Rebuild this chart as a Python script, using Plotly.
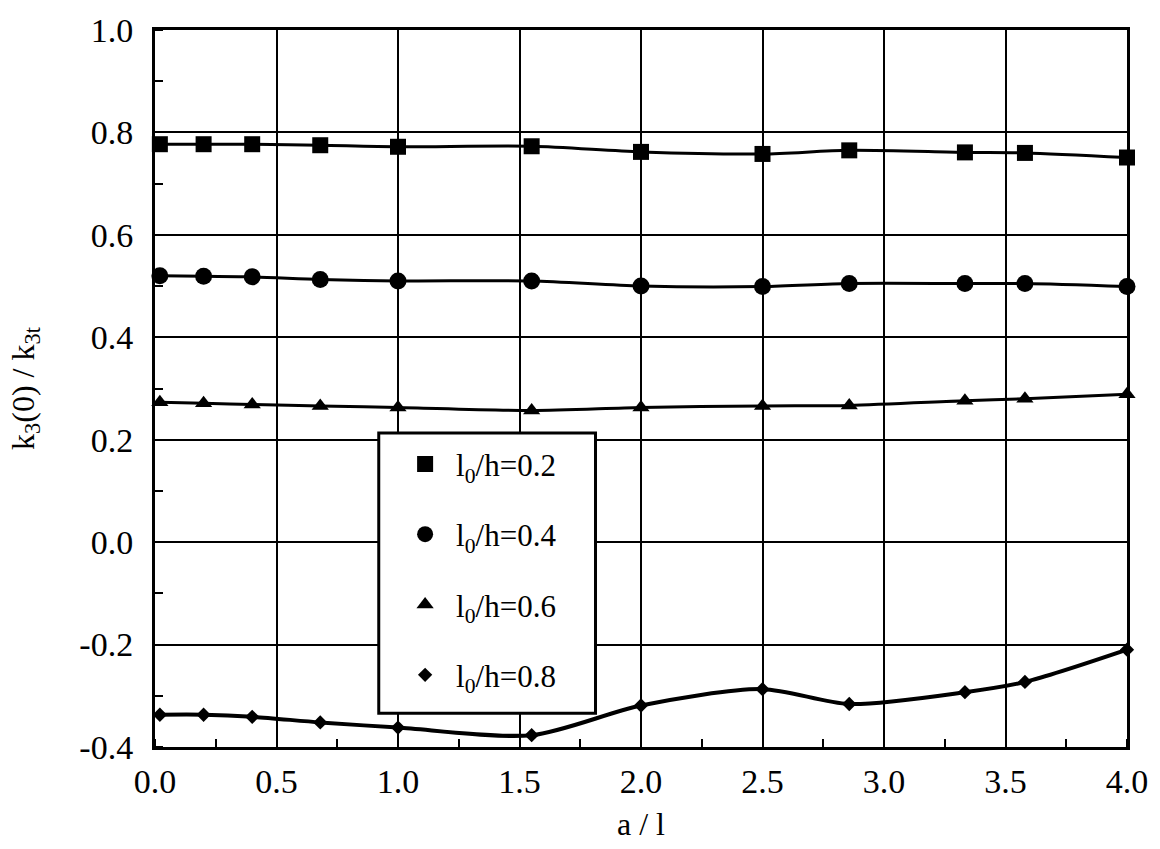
import plotly.graph_objects as go

# ---- data ----
a_over_l = [0.02, 0.2, 0.4, 0.68, 1.0, 1.55, 2.0, 2.5, 2.857, 3.333, 3.58, 4.0]
k_02 = [0.777, 0.777, 0.777, 0.775, 0.772, 0.773, 0.762, 0.758, 0.765, 0.761, 0.760, 0.751]
k_04 = [0.520, 0.519, 0.518, 0.513, 0.510, 0.510, 0.500, 0.499, 0.505, 0.505, 0.505, 0.499]
k_06 = [0.273, 0.271, 0.269, 0.266, 0.263, 0.257, 0.263, 0.266, 0.267, 0.276, 0.280, 0.289]
k_08 = [-0.337, -0.337, -0.341, -0.352, -0.362, -0.377, -0.319, -0.287, -0.316, -0.293, -0.273, -0.210]

series_names = ["l<sub>0</sub>/h=0.2", "l<sub>0</sub>/h=0.4",
                "l<sub>0</sub>/h=0.6", "l<sub>0</sub>/h=0.8"]
series_values = [k_02, k_04, k_06, k_08]
symbols = ["square", "circle", "triangle-up", "diamond"]
marker_sizes = [16, 17, 15, 11]
line_widths = [3, 3, 3, 4]

x_ticks = [0.0, 0.5, 1.0, 1.5, 2.0, 2.5, 3.0, 3.5, 4.0]
x_tick_text = ["0.0", "0.5", "1.0", "1.5", "2.0", "2.5", "3.0", "3.5", "4.0"]
y_ticks = [-0.4, -0.2, 0.0, 0.2, 0.4, 0.6, 0.8, 1.0]
y_tick_text = ["-0.4", "-0.2", "0.0", "0.2", "0.4", "0.6", "0.8", "1.0"]

FONT = "Liberation Serif"

fig = go.Figure()
for i, (name, vals) in enumerate(zip(series_names, series_values)):
    # smooth line (no legend entry)
    fig.add_trace(go.Scatter(
        x=a_over_l, y=vals, mode="lines",
        line=dict(color="black", width=line_widths[i], shape="spline", smoothing=0.8),
        showlegend=False, hoverinfo="skip", cliponaxis=False))
    # markers (legend entry, markers only)
    fig.add_trace(go.Scatter(
        x=a_over_l, y=vals, mode="markers", name=name,
        legendgroup=f"g{i}",
        marker=dict(symbol=symbols[i], size=marker_sizes[i], color="black",
                    line=dict(width=0)),
        cliponaxis=False))

axis_common = dict(
    showgrid=True, gridcolor="black", gridwidth=2,
    showline=True, linecolor="black", linewidth=3, mirror=True,
    zeroline=False, ticks="", tickmode="array",
    tickfont=dict(family=FONT, size=34, color="black"),
)

fig.update_xaxes(
    range=[0, 4], tickvals=x_ticks, ticktext=x_tick_text,
    minor=dict(dtick=0.25, tick0=0, ticks="inside", ticklen=8,
               tickwidth=2, tickcolor="black", showgrid=False),
    title=dict(text="a / l", font=dict(family=FONT, size=32, color="black"), standoff=14),
    ticklabelstandoff=2,
    **axis_common)

fig.update_yaxes(
    range=[-0.4, 1.0], tickvals=y_ticks, ticktext=y_tick_text,
    minor=dict(dtick=0.1, tick0=0, ticks="inside", ticklen=8,
               tickwidth=2, tickcolor="black", showgrid=False),
    title=dict(text="k<sub>3</sub>(0) / k<sub>3t</sub>",
               font=dict(family=FONT, size=32, color="black"), standoff=36),
    ticklabelstandoff=12,
    **axis_common)

# legend frame (white box that hides the grid behind the legend)
fig.add_shape(type="rect", xref="paper", yref="paper",
              x0=0.2302, x1=0.4532, y0=0.047, y1=0.4378,
              fillcolor="white", line=dict(color="black", width=3), layer="above")

fig.update_layout(
    width=1160, height=849,
    margin=dict(l=155, r=32, t=23, b=102),
    paper_bgcolor="white", plot_bgcolor="white",
    font=dict(family=FONT, size=32, color="black"),
    legend=dict(
        x=0.246, y=0.432, xanchor="left", yanchor="top",
        bgcolor="rgba(0,0,0,0)", borderwidth=0,
        font=dict(family=FONT, size=31, color="black"),
        tracegroupgap=27, itemwidth=52,
    ),
)

fig.write_html("out.html")
